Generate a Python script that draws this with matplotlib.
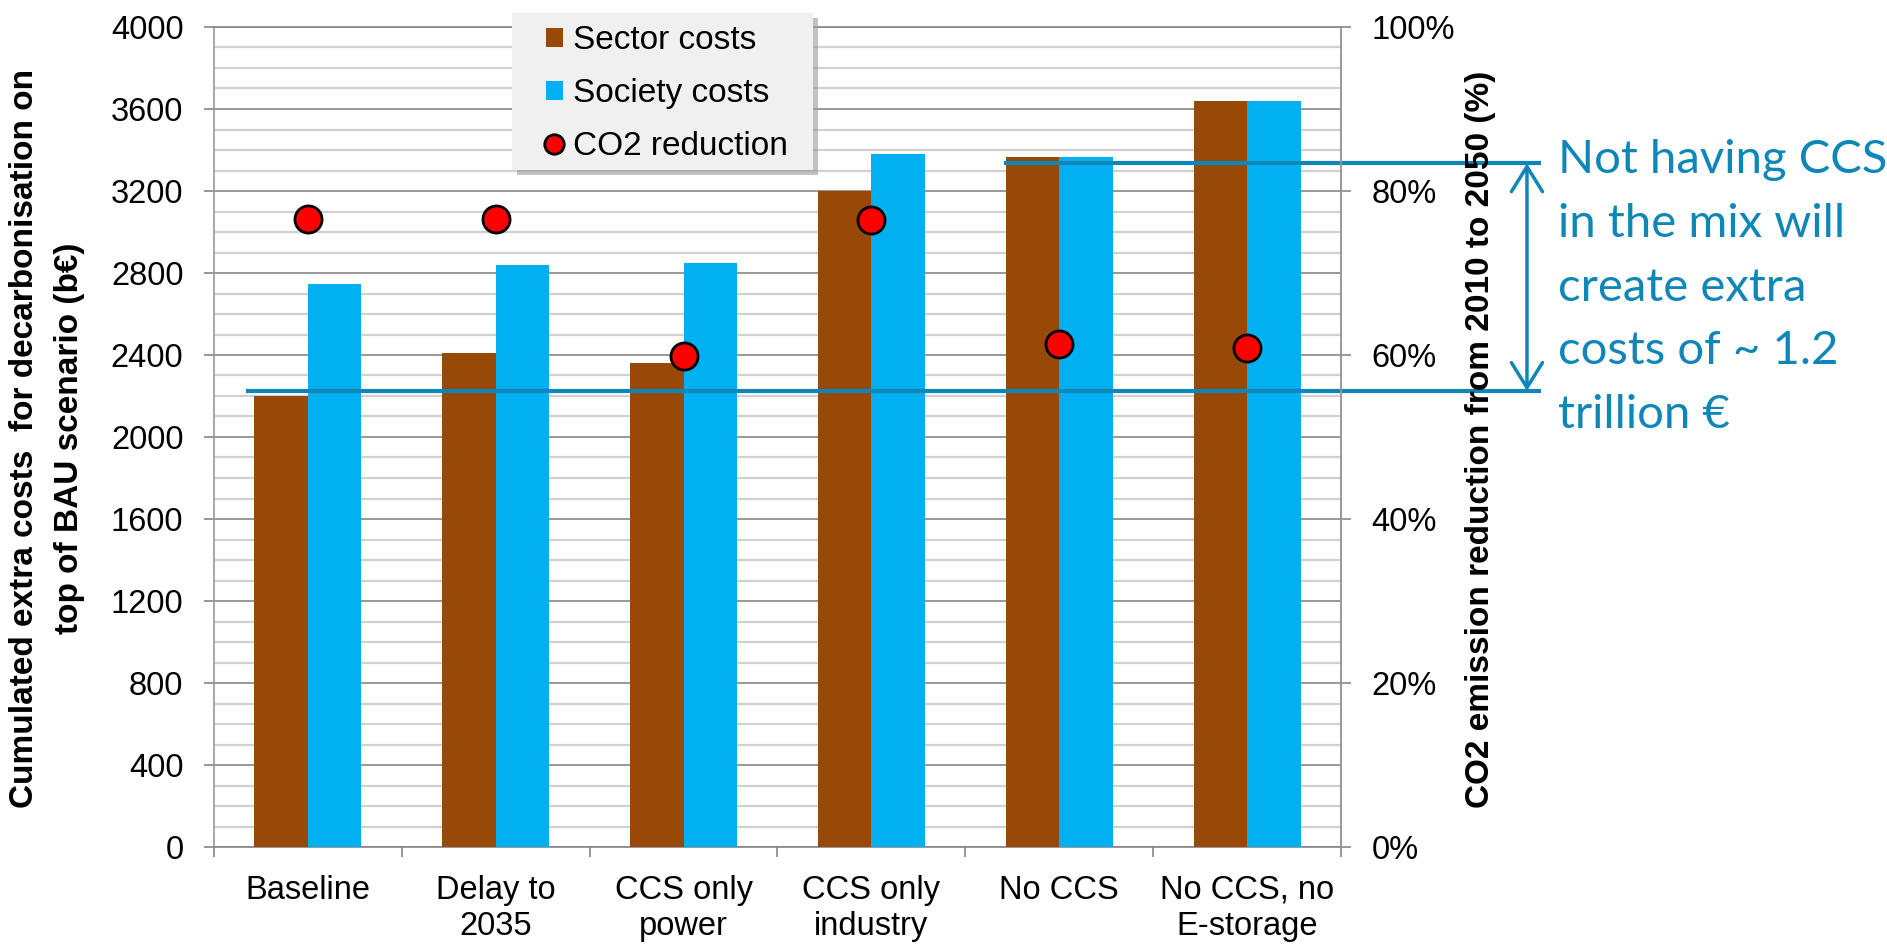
import numpy as np
import matplotlib.pyplot as plt
from matplotlib.lines import Line2D
from matplotlib.patches import Patch, Rectangle
from matplotlib.ticker import MultipleLocator

plt.rcParams['font.family'] = ['Liberation Sans', 'DejaVu Sans']

# data
scenarios = ['Baseline', 'Delay to\n2035', 'CCS only\npower', 'CCS only\nindustry',
             'No CCS', 'No CCS, no\nE-storage']
sector_costs = [2200, 2410, 2360, 3200, 3365, 3640]
society_costs = [2745, 2840, 2850, 3380, 3365, 3640]
co2_reduction = [0.766, 0.766, 0.599, 0.765, 0.613, 0.609]
pct_ticks = [0, 0.2, 0.4, 0.6, 0.8, 1.0]
pct_labels = ['0%', '20%', '40%', '60%', '80%', '100%']

# levels of the bracket annotation (b€)
low_level = 2225
high_level = 3335

brown = '#984807'
blue = '#00b0f0'
note_blue = '#0f86b8'
grid_dark = '#868686'
grid_light = '#d0d0d0'

W, H = 1887, 944
fig = plt.figure(figsize=(W / 100, H / 100), dpi=100)
ax = fig.add_axes([214 / W, 1 - 847 / H, (1341 - 214) / W, (847 - 27) / H])

x = np.arange(len(scenarios))
w = 0.285
ax.bar(x - w / 2, sector_costs, w, color=brown, zorder=3)
ax.bar(x + w / 2, society_costs, w, color=blue, zorder=3)

ax.set_xlim(-0.5, len(scenarios) - 0.5)
ax.set_ylim(0, 4000)
ax.yaxis.set_major_locator(MultipleLocator(400))
ax.yaxis.set_minor_locator(MultipleLocator(100))
ax.grid(axis='y', which='minor', color=grid_light, lw=1.6, zorder=0)
ax.grid(axis='y', which='major', color=grid_dark, lw=1.2, zorder=1)
ax.set_axisbelow(True)

ax.set_xticks(x)
ax.set_xticklabels(scenarios, fontsize=23.5, linespacing=1.2)
ax.set_xticks(np.arange(-0.5, len(scenarios), 1), minor=True)
ax.tick_params(axis='x', which='major', length=0, pad=20)
ax.tick_params(axis='x', which='minor', length=7, width=1.2, color=grid_dark)
ax.tick_params(axis='y', which='major', length=7, width=1.2, color=grid_dark,
               labelsize=23.5, pad=15)
ax.tick_params(axis='y', which='minor', length=0)

for s in ax.spines.values():
    s.set_color(grid_dark)
    s.set_linewidth(1.2)
ax.spines['left'].set_color('#9a9a9a')

ax2 = ax.twinx()
ax2.set_ylim(0, 1)
ax2.set_yticks(pct_ticks)
ax2.set_yticklabels(pct_labels)
ax2.tick_params(axis='y', length=7, width=1.2, color=grid_dark, labelsize=23.5, pad=15)
for s in ax2.spines.values():
    s.set_visible(False)
ax2.spines['right'].set_visible(True)
ax2.spines['right'].set_color('#9a9a9a')
ax2.spines['right'].set_linewidth(1.2)
ax2.plot(x, co2_reduction, 'o', ls='none', ms=19.5, mfc='#ff0000', mec='black',
         mew=2, zorder=5)

# bracket: horizontal lines and double arrow
ax.plot([-0.32, 6.554], [low_level, low_level], color=note_blue, lw=3,
        clip_on=False, zorder=6)
ax.plot([4 - w, 6.554], [high_level, high_level], color=note_blue, lw=3,
        clip_on=False, zorder=6)
ax.annotate('', xy=(6.49, high_level), xytext=(6.49, low_level),
            arrowprops=dict(arrowstyle='<->,head_length=0.45,head_width=0.28',
                            color=note_blue, lw=2.5, mutation_scale=40,
                            shrinkA=0, shrinkB=0),
            annotation_clip=False)

fig.text(1558 / W, 1 - 139 / H,
         'Not having CCS\nin the mix will\ncreate extra\ncosts of ~ 1.2\ntrillion €',
         family=['Lato', 'DejaVu Sans'], fontsize=34, color=note_blue,
         ha='left', va='top', linespacing=1.64)

fig.text(47 / W, 1 - 438 / H,
         'Cumulated extra costs  for decarbonisation on\ntop of BAU scenario (b€)',
         family=['Liberation Sans Narrow', 'Liberation Sans'], fontweight='bold',
         fontsize=24, rotation=90, ha='center', va='center', linespacing=1.55)
fig.text(1481 / W, 1 - 439 / H, 'CO2 emission reduction from 2010 to 2050 (%)',
         fontweight='bold', fontsize=24, rotation=90, ha='center', va='center')

# legend with a grey box and shadow
fig.add_artist(Rectangle((517 / W, 1 - 175 / H), 301 / W, 157 / H,
                         transform=fig.transFigure, facecolor='#9a9a9a',
                         edgecolor='none', alpha=0.6, zorder=2))
fig.add_artist(Rectangle((512 / W, 1 - 170 / H), 301 / W, 157 / H,
                         transform=fig.transFigure, facecolor='#f0f0f0',
                         edgecolor='none', zorder=2.1))
handles = [Patch(facecolor=brown), Patch(facecolor=blue),
           Line2D([], [], marker='o', ls='none', ms=14, mfc='#ff0000',
                  mec='black', mew=2)]
fig.legend(handles, ['Sector costs', 'Society costs', 'CO2 reduction'],
           loc='upper left', bbox_to_anchor=(546 / W, 1 - 25 / H),
           bbox_transform=fig.transFigure, frameon=False, fontsize=24,
           borderpad=0, borderaxespad=0, handlelength=0.5, handleheight=0.5,
           handletextpad=0.3, labelspacing=0.66)

fig.savefig('out.png', dpi=100)
